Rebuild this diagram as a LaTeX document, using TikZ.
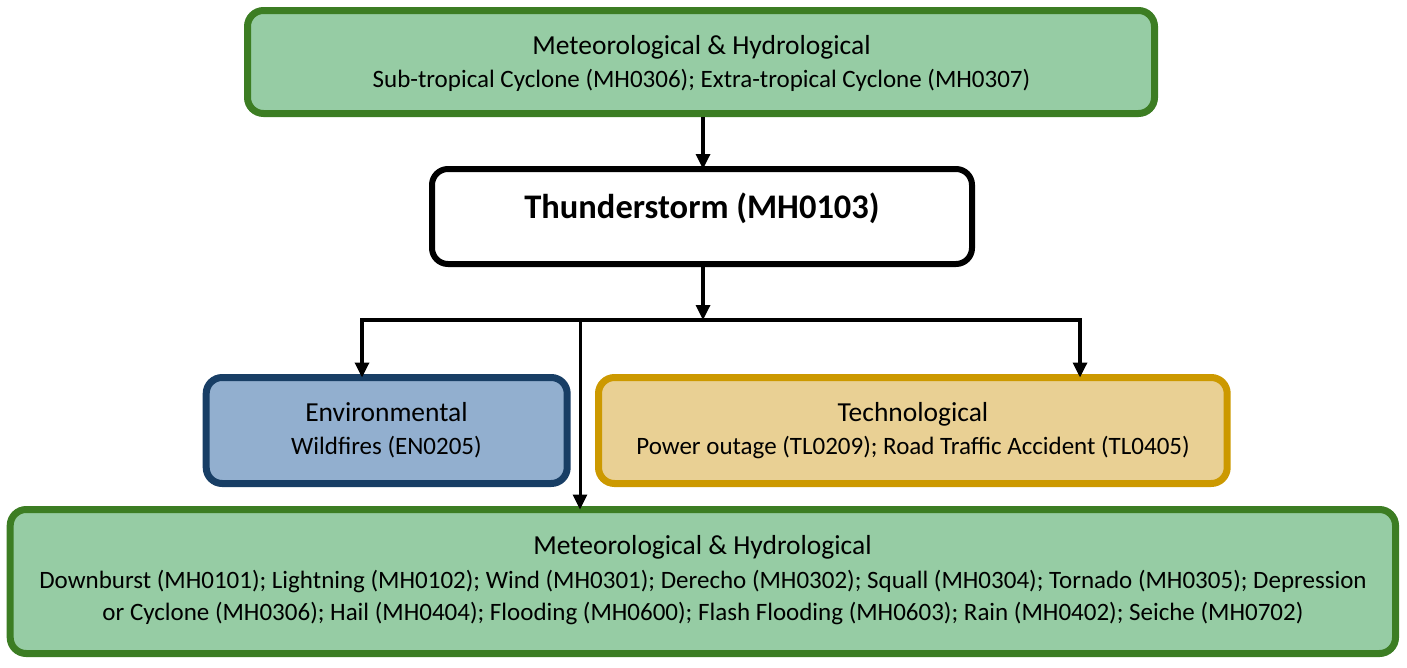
\documentclass[tikz,border=0pt]{standalone}
\usepackage{fontspec}
\setmainfont{Carlito}
\usetikzlibrary{arrows.meta}
\definecolor{gfill}{RGB}{150,204,164}
\definecolor{gdraw}{RGB}{60,125,35}
\definecolor{bfill}{RGB}{146,175,207}
\definecolor{bdraw}{RGB}{24,62,101}
\definecolor{yfill}{RGB}{233,208,148}
\definecolor{ydraw}{RGB}{204,153,0}
\tikzset{
  box/.style={rounded corners=16pt, line width=7pt, inner sep=0pt},
  greenbox/.style={box, draw=gdraw, fill=gfill},
  bluebox/.style={box, draw=bdraw, fill=bfill},
  yellowbox/.style={box, draw=ydraw, fill=yfill},
  stormbox/.style={box, draw=black, fill=white, line width=6pt},
  ttl/.style={anchor=base, inner sep=0pt, font=\fontsize{27.5}{32}\selectfont},
  sub/.style={anchor=base, inner sep=0pt, font=\fontsize{25}{32}\selectfont},
  stormtxt/.style={anchor=base, inner sep=0pt, font=\fontsize{34.5}{40}\selectfont\bfseries},
  arr/.style={line width=3.3pt, -{Triangle[length=15pt,width=14pt]}},
  thinarr/.style={line width=3pt, -{Triangle[length=15pt,width=14pt]}},
  conn/.style={line width=3.3pt},
}
\begin{document}
\begin{tikzpicture}[x=1pt,y=-1pt]
\useasboundingbox (0,0) rectangle (1407,667);
% boxes
\node[greenbox, minimum width=907pt, minimum height=103pt] (top) at (701,62) {};
\node[stormbox, minimum width=540pt, minimum height=95pt] (storm) at (702,216.5) {};
\node[bluebox, minimum width=361pt, minimum height=106pt] (env) at (386.7,430.5) {};
\node[yellowbox, minimum width=628.7pt, minimum height=106pt] (tech) at (912.85,430.5) {};
\node[greenbox, minimum width=1385.3pt, minimum height=144pt] (bottom) at (702.85,581.5) {};
% texts
\node[ttl] (top-t) at (701.5,54.5) {Meteorological \& Hydrological};
\node[sub] (top-s) at (701.5,87.5) {Sub-tropical Cyclone (MH0306); Extra-tropical Cyclone (MH0307)};
\node[stormtxt] (storm-t) at (702,218.5) {Thunderstorm (MH0103)};
\node[ttl] (env-t) at (386.5,421.5) {Environmental};
\node[sub] (env-s) at (386.5,454.5) {Wildfires (EN0205)};
\node[ttl] (tech-t) at (913,421.5) {Technological};
\node[sub] (tech-s) at (913,454.5) {Power outage (TL0209); Road Traffic Accident (TL0405)};
\node[ttl] (bot-t) at (702.5,554.5) {Meteorological \& Hydrological};
\node[sub] (bot-s1) at (703,588) {Downburst (MH0101); Lightning (MH0102); Wind (MH0301); Derecho (MH0302); Squall (MH0304); Tornado (MH0305); Depression};
\node[sub] (bot-s2) at (703,620) {or Cyclone (MH0306); Hail (MH0404); Flooding (MH0600); Flash Flooding (MH0603); Rain (MH0402); Seiche (MH0702)};
% connectors
\coordinate (j) at (703,320);
\coordinate (jl) at (362,320);
\coordinate (jr) at (1080,320);
\coordinate (jm) at (580,320);
\draw[arr] (top.south -| j) -- ([yshift=-3pt]storm.north -| j);
\draw[arr] (storm.south -| j) -- (j);
\draw[conn, line cap=rect] (jl) -- (jr);
\draw[arr] (jl) -- ([yshift=-3.5pt]jl |- env.north);
\draw[arr] (jr) -- ([yshift=-3.5pt]jr |- tech.north);
\draw[thinarr] (jm) -- ([yshift=-3.5pt]jm |- bottom.north);
\end{tikzpicture}
\end{document}
